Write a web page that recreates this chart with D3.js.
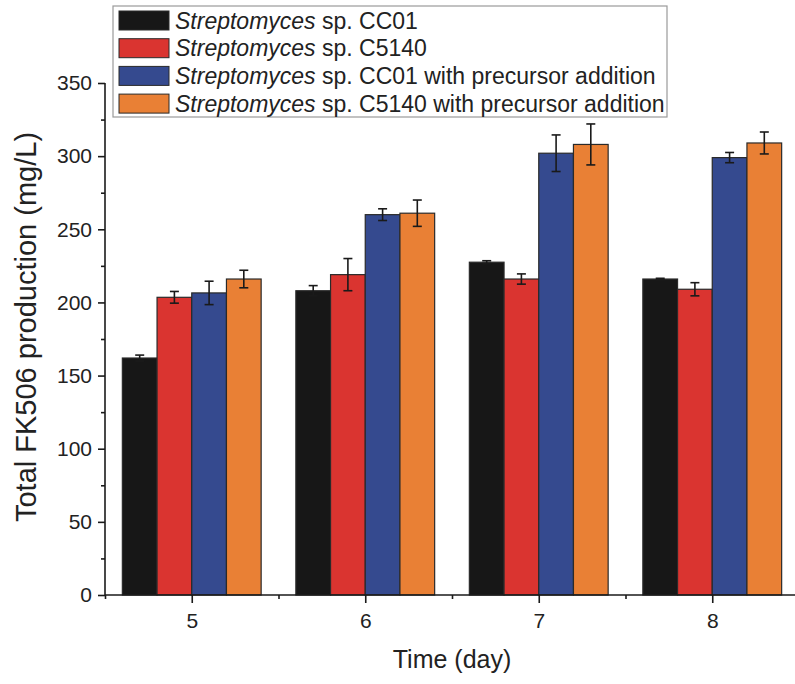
<!DOCTYPE html>
<html>
<head>
<meta charset="utf-8">
<script src="https://cdn.jsdelivr.net/npm/d3@7"></script>
<style>
  body { margin: 0; background: #fff; }
  svg { display: block; font-family: "Liberation Sans", Arial, sans-serif; }
</style>
</head>
<body>
<svg id="chart" width="795" height="684"></svg>
<script>
// days on the x axis
var days = [5, 6, 7, 8];

// legend labels (italic genus + rest)
var seriesNames = [
    "sp. CC01",
    "sp. C5140",
    "sp. CC01 with precursor addition",
    "sp. C5140 with precursor addition"
];

// bar heights (mg/L)
var cc01 = [162, 208, 227.5, 216];
var c5140 = [203.5, 219, 216, 209];
var cc01Pre = [206.5, 260, 302, 299];
var c5140Pre = [216, 261, 308, 309];

// error bars (+/-)
var cc01Err = [2, 3.5, 1, 0.5];
var c5140Err = [4, 11, 3.5, 4.5];
var cc01PreErr = [8, 4, 12.5, 3.5];
var c5140PreErr = [6, 9, 14, 7.5];

var yTicks = [0, 50, 100, 150, 200, 250, 300, 350];

var colors = ["#171717", "#da3430", "#354a8f", "#e98035"];

var series = [
    { name: seriesNames[0], values: cc01, err: cc01Err },
    { name: seriesNames[1], values: c5140, err: c5140Err },
    { name: seriesNames[2], values: cc01Pre, err: cc01PreErr },
    { name: seriesNames[3], values: c5140Pre, err: c5140PreErr }
];

var svg = d3.select("#chart");

var x = d3.scaleLinear()
    .domain([4.5, 8.5])
    .range([105, 799]);

var y = d3.scaleLinear()
    .domain([0, 350])
    .range([595, 83]);

var barW = 0.2;
var offsets = [-0.4, -0.2, 0, 0.2];

// bars
series.forEach(function(s, i) {
    var g = svg.append("g");
    g.selectAll("rect")
        .data(s.values)
        .enter()
        .append("rect")
        .attr("x", function(d, j) { return x(days[j] + offsets[i]); })
        .attr("y", function(d) { return y(d); })
        .attr("width", x(barW) - x(0))
        .attr("height", function(d) { return y(0) - y(d); })
        .style("fill", colors[i])
        .style("stroke", "#2a2a2a")
        .style("stroke-width", 1.2);

    //error bars
    var eb = g.selectAll("g.err")
        .data(s.values)
        .enter()
        .append("g")
        .attr("class", "err")
        .style("stroke", "#1a1a1a")
        .style("stroke-width", 1.6);
    var cx = function(d, j) { return x(days[j] + offsets[i] + barW / 2); };
    eb.append("line")
        .attr("x1", cx).attr("x2", cx)
        .attr("y1", function(d, j) { return y(d + s.err[j]); })
        .attr("y2", function(d, j) { return y(d - s.err[j]); });
    eb.append("line")
        .attr("x1", function(d, j) { return cx(d, j) - 4.5; })
        .attr("x2", function(d, j) { return cx(d, j) + 4.5; })
        .attr("y1", function(d, j) { return y(d + s.err[j]); })
        .attr("y2", function(d, j) { return y(d + s.err[j]); });
    eb.append("line")
        .attr("x1", function(d, j) { return cx(d, j) - 4.5; })
        .attr("x2", function(d, j) { return cx(d, j) + 4.5; })
        .attr("y1", function(d, j) { return y(d - s.err[j]); })
        .attr("y2", function(d, j) { return y(d - s.err[j]); });
});

// y axis with minor ticks
var yAxis = svg.append("g")
    .attr("transform", "translate(" + x(4.5) + ",0)")
    .call(d3.axisLeft(y).tickValues(yTicks).tickSize(7).tickPadding(6));
svg.append("g")
    .attr("transform", "translate(" + x(4.5) + ",0)")
    .call(d3.axisLeft(y).tickValues(d3.range(25, 350, 50)).tickSize(4).tickFormat(""))
    .select(".domain").remove();

// x axis
var xAxis = svg.append("g")
    .attr("transform", "translate(0," + y(0) + ")")
    .call(d3.axisBottom(x).tickValues(days).tickSize(8).tickPadding(10).tickFormat(d3.format("d")));
svg.append("g")
    .attr("transform", "translate(0," + y(0) + ")")
    .call(d3.axisBottom(x).tickValues([4.5, 5.5, 6.5, 7.5, 8.5]).tickSize(4).tickFormat(""))
    .select(".domain").remove();

svg.selectAll(".domain, .tick line")
    .style("stroke", "#1a1a1a")
    .style("stroke-width", 1.6);
yAxis.select(".domain").attr("d", "M0," + y(350) + "V" + y(0));
xAxis.select(".domain").attr("d", "M" + x(4.5) + ",0H" + x(8.5));

svg.selectAll(".tick text")
    .style("font-size", "21px")
    .style("fill", "#222")
    .style("font-family", "'Liberation Sans', Arial, sans-serif");

// axis titles
svg.append("text")
    .attr("x", x(6.5))
    .attr("y", 668)
    .attr("text-anchor", "middle")
    .style("font-size", "25px")
    .style("fill", "#222")
    .text("Time (day)");

svg.append("text")
    .attr("transform", "translate(36,327) rotate(-90)")
    .attr("text-anchor", "middle")
    .style("font-size", "29px")
    .style("fill", "#222")
    .text("Total FK506 production (mg/L)");

// legend
var li = { x: 113, y: 6, w: 554, h: 111, rowH: 27.7, sw: 50, sh: 19 };
var legend = svg.append("g");
legend.append("rect")
    .attr("x", li.x)
    .attr("y", li.y)
    .attr("width", li.w)
    .attr("height", li.h)
    .style("fill", "#fff")
    .style("stroke", "#9a9a9a")
    .style("stroke-width", 1.2);

var lg = legend.selectAll("g.item")
    .data(series)
    .enter()
    .append("g")
    .attr("class", "item")
    .attr("transform", function(d, i) {
        return "translate(" + (li.x + 6) + "," + (li.y + 5 + i * li.rowH) + ")";
    });
lg.append("rect")
    .attr("width", li.sw)
    .attr("height", li.sh)
    .style("fill", function(d, i) { return colors[i]; })
    .style("stroke", "#2a2a2a")
    .style("stroke-width", 1);
var lt = lg.append("text")
    .attr("x", li.sw + 6)
    .attr("y", li.sh / 2)
    .attr("dy", "0.36em")
    .style("font-size", "23px")
    .style("fill", "#222");
lt.append("tspan").style("font-style", "italic").text("Streptomyces");
lt.append("tspan").text(function(d) { return " " + d.name; });
</script>
</body>
</html>
